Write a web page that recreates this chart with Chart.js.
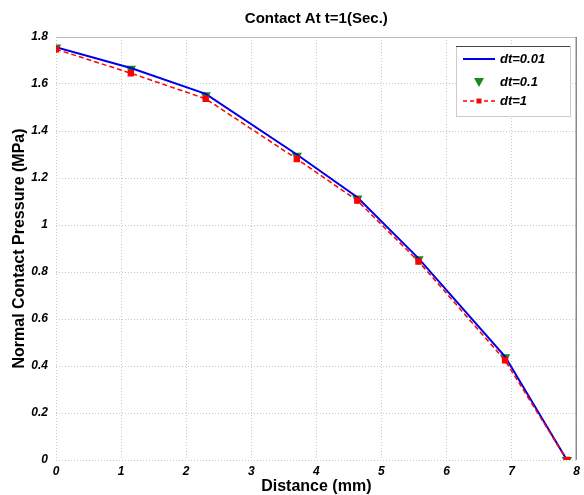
<!DOCTYPE html>
<html>
<head>
<meta charset="utf-8">
<script src="https://cdn.jsdelivr.net/npm/chart.js@4"></script>
<style>
  html, body { margin: 0; padding: 0; background: #fff; }
  #wrap { width: 584px; height: 495px; position: relative; }
</style>
</head>
<body>
<div id="wrap"><canvas id="chart"></canvas></div>
<script>
// ---- data ----
var distance = [0, 1.15, 2.3, 3.7, 4.63, 5.57, 6.9, 7.85];
var dt001 = [1.757, 1.668, 1.558, 1.300, 1.118, 0.858, 0.440, 0];
var dt01 = [1.755, 1.665, 1.552, 1.295, 1.113, 0.854, 0.437, 0];
var dt1 = [1.748, 1.646, 1.537, 1.281, 1.104, 0.845, 0.424, 0];
var xTicks = [0, 1, 2, 3, 4, 5, 6, 7, 8];
var yTicks = [0, 0.2, 0.4, 0.6, 0.8, 1, 1.2, 1.4, 1.6, 1.8];
var seriesNames = ['dt=0.01', 'dt=0.1', 'dt=1'];

var FONT = '"Liberation Sans", Arial, sans-serif';

function toPoints(ys) {
    return distance.map(function(x, i) { return { x: x, y: ys[i] }; });
}

// title, box and legend drawn by hand (MATLAB look)
var matlabDecor = {
    id: 'matlabDecor',
    afterDraw: function(chart) {
        var ctx = chart.ctx;
        var a = chart.chartArea;
        ctx.save();

        // box
        ctx.strokeStyle = '#bdbdbd';
        ctx.lineWidth = 1;
        ctx.beginPath();
        ctx.moveTo(a.left, a.top + 0.5);
        ctx.lineTo(a.right, a.top + 0.5);
        ctx.stroke();
        ctx.strokeStyle = '#555';
        ctx.beginPath();
        ctx.moveTo(a.right - 0.5, a.top);
        ctx.lineTo(a.right - 0.5, a.bottom);
        ctx.stroke();

        // title
        ctx.fillStyle = '#000';
        ctx.font = 'bold 15px ' + FONT;
        ctx.textAlign = 'center';
        ctx.textBaseline = 'middle';
        ctx.fillText('Contact At t=1(Sec.)', (a.left + a.right) / 2, 19);

        // legend
        var lx = 456, ly = 46, lw = 114, lh = 70;
        ctx.fillStyle = '#fff';
        ctx.fillRect(lx, ly, lw, lh);
        ctx.strokeStyle = '#ccc';
        ctx.strokeRect(lx + 0.5, ly + 0.5, lw, lh);
        ctx.strokeStyle = '#444';
        ctx.beginPath();
        ctx.moveTo(lx, ly + 0.5);
        ctx.lineTo(lx + lw, ly + 0.5);
        ctx.stroke();

        var rows = [59, 82, 101];
        var x0 = 463, x1 = 495;
        // blue line
        ctx.strokeStyle = '#0000e6';
        ctx.lineWidth = 2;
        ctx.beginPath();
        ctx.moveTo(x0, rows[0]);
        ctx.lineTo(x1, rows[0]);
        ctx.stroke();
        // green triangle
        ctx.fillStyle = '#1a8a1a';
        ctx.beginPath();
        var cx = (x0 + x1) / 2, cy = rows[1];
        ctx.moveTo(cx - 5, cy - 4);
        ctx.lineTo(cx + 5, cy - 4);
        ctx.lineTo(cx, cy + 5);
        ctx.closePath();
        ctx.fill();
        // red dashed with square
        ctx.strokeStyle = '#ff0000';
        ctx.lineWidth = 1.5;
        ctx.setLineDash([4, 3]);
        ctx.beginPath();
        ctx.moveTo(x0, rows[2]);
        ctx.lineTo(x1, rows[2]);
        ctx.stroke();
        ctx.setLineDash([]);
        ctx.fillStyle = '#ff0000';
        ctx.fillRect(cx - 2.5, rows[2] - 2.5, 5, 5);

        ctx.fillStyle = '#000';
        ctx.font = 'italic bold 13px ' + FONT;
        ctx.textAlign = 'left';
        for (var i = 0; i < 3; i++) {
            ctx.fillText(seriesNames[i], 500, rows[i]);
        }
        ctx.restore();
    }
};

var tickFont = { family: FONT, size: 12, style: 'italic', weight: 'bold' };
var titleFont = { family: FONT, size: 16, weight: 'bold', lineHeight: 1 };

new Chart(document.getElementById('chart'), {
    type: 'scatter',
    data: {
        datasets: [
            {
                label: seriesNames[0],
                data: toPoints(dt001),
                showLine: true,
                borderColor: '#0000e6',
                borderWidth: 2,
                pointRadius: 0,
                order: 2
            },
            {
                label: seriesNames[1],
                data: toPoints(dt01),
                showLine: false,
                pointStyle: 'triangle',
                rotation: 180,
                pointRadius: 6,
                backgroundColor: '#1a8a1a',
                borderColor: '#1a8a1a',
                borderWidth: 0,
                order: 3
            },
            {
                label: seriesNames[2],
                data: toPoints(dt1),
                showLine: true,
                borderColor: '#ff0000',
                borderWidth: 1.5,
                borderDash: [5, 3],
                pointStyle: 'rect',
                pointRadius: 3.5,
                backgroundColor: '#ff0000',
                pointBorderColor: '#ff0000',
                order: 1
            }
        ]
    },
    options: {
        responsive: true,
        maintainAspectRatio: false,
        animation: false,
        layout: { padding: { top: 37, right: 6, left: 0, bottom: 0 } },
        plugins: {
            legend: { display: false },
            title: { display: false },
            tooltip: { enabled: false }
        },
        scales: {
            x: {
                type: 'linear',
                min: 0,
                max: 8,
                afterFit: function(scale) { scale.height = 35; },
                afterBuildTicks: function(scale) {
                    scale.ticks = xTicks.map(function(v) { return { value: v }; });
                },
                grid: { color: '#c8c8c8', lineWidth: 1, drawTicks: false },
                border: { display: false, dash: [1, 2] },
                ticks: { color: '#000', font: tickFont, padding: 4, maxRotation: 0 },
                title: { display: true, text: 'Distance (mm)', color: '#000', font: titleFont, padding: { top: 0, bottom: 0 } }
            },
            y: {
                type: 'linear',
                min: 0,
                max: 1.8,
                afterFit: function(scale) { scale.width = 56; },
                afterBuildTicks: function(scale) {
                    scale.ticks = yTicks.map(function(v) { return { value: v }; });
                },
                grid: { color: '#c8c8c8', lineWidth: 1, drawTicks: false },
                border: { display: false, dash: [1, 2] },
                ticks: {
                    color: '#000',
                    font: tickFont,
                    padding: 8,
                    callback: function(v) { return String(Math.round(v * 10) / 10); }
                },
                title: { display: true, text: 'Normal Contact Pressure (MPa)', color: '#000', font: titleFont, padding: { top: 12, bottom: 0 } }
            }
        }
    },
    plugins: [matlabDecor]
});
</script>
</body>
</html>
